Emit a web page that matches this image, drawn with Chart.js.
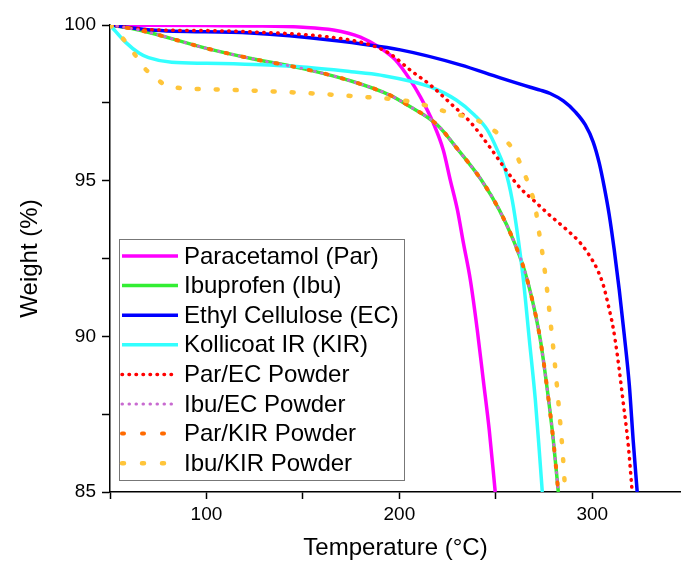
<!DOCTYPE html>
<html>
<head>
<meta charset="utf-8">
<script src="https://cdn.jsdelivr.net/npm/chart.js@4.4.1/dist/chart.umd.min.js"></script>
<style>
    body { margin: 0; background: #fff; }
    #tga { display: block; }
</style>
</head>
<body>
<canvas id="tga" width="681" height="565" style="width:681px;height:565px"></canvas>
<script>
// temperature (°C) / weight (%)
var parT = [50, 100, 122.8, 150, 165.8, 179.8, 190.2, 197.9, 205.7, 210.9, 217.6, 222.8, 226.4, 230.1, 233.2, 236.8, 240.4, 243.5, 246.6, 249.7];
var parW = [100, 99.98, 99.97, 99.93, 99.84, 99.61, 99.26, 98.88, 98.23, 97.69, 96.85, 95.98, 95.02, 94.06, 93.0, 91.81, 90.2, 88.6, 86.99, 85];

var ibuT = [50, 65, 100, 125, 150, 175, 195, 205, 219.7, 230.6, 242.5, 251.8, 259.1, 264.8, 268.9, 273.1, 276.7, 279.8, 282.4];
var ibuW = [100, 99.84, 99.25, 98.9, 98.6, 98.2, 97.75, 97.4, 96.79, 95.98, 95.02, 94.06, 93.09, 92.13, 91.17, 89.88, 88.28, 86.67, 85];

var ecT = [50, 71, 122.8, 164, 200.5, 231.6, 252.3, 267.9, 273, 278.2, 285, 291.2, 296.4, 300.5, 303.6, 306.2, 308.8, 311.4, 314, 316.6, 319.2, 321.2, 323.3];
var ecW = [100, 99.84, 99.74, 99.52, 99.2, 98.72, 98.3, 98.0, 97.91, 97.8, 97.56, 97.21, 96.79, 96.24, 95.57, 94.8, 93.9, 92.77, 91.49, 90.04, 88.44, 86.67, 85];

var kirT = [50, 58, 65, 70, 82, 100, 125, 150, 175, 190.2, 216.1, 229.5, 238.9, 245.6, 250.8, 254.9, 258.5, 261.7, 264.3, 267.4, 270.5, 272.5, 274.1];
var kirW = [100, 99.45, 99.1, 98.95, 98.8, 98.77, 98.73, 98.65, 98.5, 98.39, 98.01, 97.59, 97.11, 96.63, 95.98, 95.34, 94.38, 93.09, 91.81, 89.88, 87.95, 86.35, 85];

var parEcT = [50, 70, 100, 122.8, 164.2, 185, 195.3, 205.7, 216.1, 226.4, 236.8, 247.2, 256, 262.7, 269.4, 276.7, 287, 293.8, 299, 302.6, 305.7, 308.3, 310.9, 313, 316, 318.6, 320.7];
var parEcW = [100, 99.85, 99.82, 99.78, 99.61, 99.36, 99.07, 98.55, 98.07, 97.49, 96.88, 96.05, 95.28, 94.76, 94.38, 93.96, 93.41, 93.0, 92.55, 92.15, 91.65, 91.0, 90.25, 89.4, 87.9, 86.55, 85];

var ibuEcT = [50, 65, 100, 125, 150, 175, 195, 205, 219.7, 230.6, 242.5, 251.8, 259.1, 264.8, 268.9, 273.1, 276.7, 279.8, 282.4];
var ibuEcW = [100, 99.84, 99.25, 98.9, 98.6, 98.2, 97.75, 97.4, 96.79, 95.98, 95.02, 94.06, 93.09, 92.13, 91.17, 89.88, 88.28, 86.67, 85];

var parKirT = [50, 65, 100, 125, 150, 175, 195, 205, 219.7, 230.6, 242.5, 251.8, 259.1, 264.8, 268.9, 273.1, 276.7, 279.8, 282.4];
var parKirW = [100, 99.84, 99.25, 98.9, 98.6, 98.2, 97.75, 97.4, 96.79, 95.98, 95.02, 94.06, 93.09, 92.13, 91.17, 89.88, 88.28, 86.67, 85];

var ibuKirT = [50, 56.5, 62, 67.4, 73.6, 80, 100, 120, 150, 175, 190, 200, 213, 225, 240, 247, 255, 260, 264, 268, 270.5, 272, 273.6, 276.2, 278.3, 280.4, 283, 284.5, 286];
var ibuKirW = [100, 99.58, 99.13, 98.65, 98.3, 98.04, 97.94, 97.9, 97.82, 97.72, 97.65, 97.6, 97.43, 97.2, 96.95, 96.7, 96.3, 95.9, 95.35, 94.7, 94.15, 93.5, 92.9, 91.7, 90.5, 89.25, 87.5, 86.4, 85];

var labels = ["Paracetamol (Par)", "Ibuprofen (Ibu)", "Ethyl Cellulose (EC)", "Kollicoat IR (KIR)",
              "Par/EC Powder", "Ibu/EC Powder", "Par/KIR Powder", "Ibu/KIR Powder"];

var xTicks = [50, 100, 150, 200, 250, 300];
var xLabels = [100, 200, 300];
var yTicks = [85, 87.5, 90, 92.5, 95, 97.5, 100];
var yLabels = [85, 90, 95, 100];

function pts(t, w) {
    return t.map(function(v, i) { return {x: v, y: w[i]}; });
}

var series = [
    [parT, parW, '#ff00ff', 3.5, [], 'butt'],
    [ibuT, ibuW, '#33ee33', 3.5, [], 'butt'],
    [ecT, ecW, '#0000ff', 3.5, [], 'butt'],
    [kirT, kirW, '#33ffff', 3.5, [], 'butt'],
    [parEcT, parEcW, '#ff0000', 3.5, [0.5, 6.5], 'round'],
    [ibuEcT, ibuEcW, '#c86ad0', 3, [0.5, 6.5], 'round'],
    [parKirT, parKirW, '#ff6a00', 4, [2, 15], 'round'],
    [ibuKirT, ibuKirW, '#ffc53a', 4.5, [2, 17], 'round']
];

var data_db = [];
series.forEach(function(s, i) {
    data_db.push({
        label: labels[i],
        data: pts(s[0], s[1]),
        borderColor: s[2],
        backgroundColor: s[2],
        borderWidth: s[3],
        borderDash: s[4],
        borderCapStyle: s[5],
        borderJoinStyle: 'round',
        fill: false,
        pointRadius: 0,
        cubicInterpolationMode: 'monotone',
        order: series.length - i
    });
});

var legendBox = {
    id: 'legendBox',
    afterDatasetsDraw: function(chart) {
        var ctx = chart.ctx;
        ctx.save();
        ctx.fillStyle = '#fff';
        ctx.fillRect(119, 239, 285, 241);
        ctx.strokeStyle = '#777';
        ctx.lineWidth = 1;
        ctx.setLineDash([]);
        ctx.strokeRect(119.5, 239.5, 285, 241);
        chart.data.datasets.forEach(function(ds, i) {
            var y = 256 + i * 29.6;
            var dash = ds.borderDash || [];
            var end = 178;
            if (dash.length && dash[1] > 10) { dash = [2, 18]; end = 166; }
            ctx.strokeStyle = ds.borderColor;
            ctx.lineWidth = ds.borderWidth;
            ctx.lineCap = ds.borderCapStyle;
            ctx.setLineDash(dash);
            ctx.beginPath();
            ctx.moveTo(122, y);
            ctx.lineTo(end, y);
            ctx.stroke();
            ctx.setLineDash([]);
            ctx.fillStyle = '#000';
            ctx.font = '24px "Liberation Sans", Arial, sans-serif';
            ctx.textBaseline = 'middle';
            ctx.textAlign = 'left';
            ctx.fillText(ds.label, 184, y + 1);
        });
        ctx.restore();
    }
};

Chart.defaults.font.family = '"Liberation Sans", Arial, sans-serif';
Chart.defaults.color = '#000';

new Chart(document.getElementById('tga'), {
    type: 'line',
    data: { datasets: data_db },
    options: {
        responsive: false,
        animation: false,
        layout: { padding: { top: 25, right: 0, left: 0, bottom: 0 } },
        plugins: { legend: { display: false }, tooltip: { enabled: false } },
        scales: {
            x: {
                type: 'linear',
                min: 50,
                max: 346,
                afterBuildTicks: function(scale) {
                    scale.ticks = xTicks.map(function(v) { return {value: v}; });
                },
                afterFit: function(scale) { scale.height = 73; },
                ticks: {
                    autoSkip: false,
                    maxRotation: 0,
                    padding: 4,
                    font: { size: 19 },
                    callback: function(v) { return xLabels.indexOf(v) >= 0 ? String(v) : ''; }
                },
                grid: { drawOnChartArea: false, drawTicks: true, tickLength: 7, tickColor: '#000', tickWidth: 1.5 },
                border: { display: true, color: '#000', width: 1.5 },
                title: { display: true, text: 'Temperature (°C)', font: { size: 24 }, padding: { top: 0, bottom: 2 } }
            },
            y: {
                type: 'linear',
                min: 85,
                max: 100,
                afterBuildTicks: function(scale) {
                    scale.ticks = yTicks.map(function(v) { return {value: v}; });
                },
                afterFit: function(scale) { scale.width = 110; },
                ticks: {
                    autoSkip: false,
                    padding: 6,
                    font: { size: 19 },
                    callback: function(v) { return yLabels.indexOf(v) >= 0 ? String(v) : ''; }
                },
                grid: { drawOnChartArea: false, drawTicks: true, tickLength: 8, tickColor: '#000', tickWidth: 1.5 },
                border: { display: true, color: '#000', width: 1.5 },
                title: { display: true, text: 'Weight (%)', font: { size: 24 }, padding: { top: 16, bottom: 0 } }
            }
        }
    },
    plugins: [legendBox]
});
</script>
</body>
</html>
